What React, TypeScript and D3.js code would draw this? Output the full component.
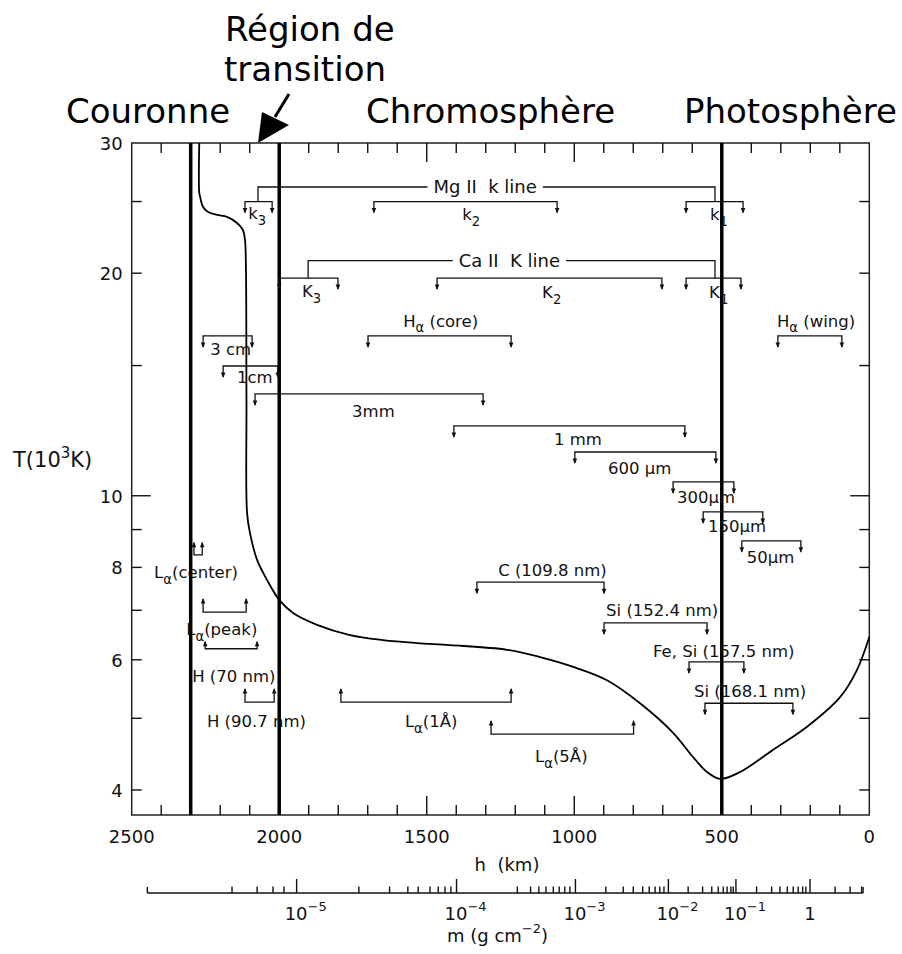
import React from 'react';
import * as d3 from 'd3';

const W = 902;
const H = 954;
const FONT = "'DejaVu Sans', Verdana, sans-serif";

// Temperature profile T(h) (VAL model), h in km, T in 10^3 K
const heightKm = [2271, 2271, 2268, 2258, 2241, 2211, 2177, 2143, 2123, 2116, 2113, 2111, 2109, 2099, 2075, 2041, 2000, 1953, 1872, 1760, 1648, 1533, 1421, 1228, 1116, 1004, 889, 777, 665, 597, 550, 506, 438, 327, 211, 99, 42, 0];
const tempKK = [30, 25.68, 25.36, 24.58, 24.2, 23.98, 23.83, 23.38, 22.88, 22.18, 20.65, 13.48, 9.48, 8.9, 8.19, 7.69, 7.23, 6.94, 6.69, 6.48, 6.38, 6.32, 6.28, 6.19, 6.05, 5.87, 5.63, 5.24, 4.78, 4.43, 4.23, 4.14, 4.23, 4.53, 4.87, 5.34, 5.81, 6.44];

// Region boundaries (km)
const boundaryHeights = [2300, 2000, 500];

// Axis ticks
const hTickLabels = [2500, 2000, 1500, 1000, 500, 0];
const hMinorTicks = d3.range(100, 2500, 100);
const hLongTicks = [1500, 1000];
const tTicks = [25, 20, 15, 10, 9, 8, 7, 6, 5, 4];
const tTickLabels = [30, 20, 10, 8, 6, 4];

// Column mass scale: m (g cm^-2) vs h (km)
const massTickValues = [6e-6, 7e-6, 8e-6, 9e-6, 1e-5, 2e-5, 3e-5, 4e-5, 5e-5, 6e-5, 7e-5, 8e-5, 9e-5, 1e-4, 2e-4, 3e-4, 4e-4, 5e-4, 6e-4, 7e-4, 8e-4, 9e-4, 1e-3, 2e-3, 3e-3, 4e-3, 5e-3, 6e-3, 7e-3, 8e-3, 9e-3, 1e-2, 2e-2, 3e-2, 4e-2, 5e-2, 6e-2, 7e-2, 8e-2, 9e-2, 1e-1, 2e-1, 3e-1, 4e-1, 5e-1, 6e-1, 7e-1, 8e-1, 9e-1, 1, 2, 3, 4];
const massTickHeights = [2160, 2075, 2021, 1984, 1941, 1730, 1626, 1564, 1529, 1489, 1461, 1438, 1418, 1399, 1193, 1148, 1120, 1096, 1071, 1051, 1032, 1015, 996, 893, 834, 800, 768, 746, 726, 710, 696, 681, 614, 565, 534, 512, 495, 482, 469, 461, 452, 382, 331, 303, 278, 258, 241, 226, 215, 201, 116, 65, 26];
const massDecadeLabels = [
  { m: 1e-5, base: '10', exp: '−5' },
  { m: 1e-4, base: '10', exp: '−4' },
  { m: 1e-3, base: '10', exp: '−3' },
  { m: 1e-2, base: '10', exp: '−2' },
  { m: 1e-1, base: '10', exp: '−1' },
  { m: 1, base: '1', exp: '' },
];
const massAxisEndsH = [2447, 21];

// Formation-height brackets (arrows pointing down)
const downBrackets = [
  { label: 'k_3', h1: 2116, h2: 2024, T: 25.0, lh: 2105, lT: 23.68 },
  { label: 'k_2', h1: 1679, h2: 1058, T: 25.0, lh: 1380, lT: 23.6 },
  { label: 'k_1', h1: 621, h2: 428, T: 25.0, lh: 540, lT: 23.6 },
  { label: 'K_3', h1: 2000, h2: 1801, T: 19.7, lh: 1923, lT: 18.57 },
  { label: 'K_2', h1: 1465, h2: 703, T: 19.7, lh: 1109, lT: 18.5 },
  { label: 'K_1', h1: 621, h2: 435, T: 19.7, lh: 543, lT: 18.5 },
  { label: 'H_α (core)', h1: 1699, h2: 1214, T: 16.45, lh: 1580, lT: 16.94 },
  { label: 'H_α (wing)', h1: 310, h2: 93, T: 16.45, lh: 313, lT: 16.94 },
  { label: '3 cm', h1: 2258, h2: 2092, T: 16.45, lh: 2234, lT: 15.5 },
  { label: '1cm', h1: 2190, h2: 2005, T: 14.98, lh: 2143, lT: 14.2 },
  { label: '3mm', h1: 2082, h2: 1309, T: 13.73, lh: 1753, lT: 12.78 },
  { label: '1 mm', h1: 1408, h2: 625, T: 12.43, lh: 1069, lT: 11.71 },
  { label: '600 µm', h1: 998, h2: 520, T: 11.46, lh: 886, lT: 10.7 },
  { label: '300µm', h1: 665, h2: 459, T: 10.44, lh: 652, lT: 9.78 },
  { label: '150µm', h1: 563, h2: 361, T: 9.51, lh: 547, lT: 8.93 },
  { label: '50µm', h1: 432, h2: 232, T: 8.69, lh: 415, lT: 8.11 },
  { label: 'C (109.8 nm)', h1: 1330, h2: 899, T: 7.64, lh: 1258, lT: 7.8 },
  { label: 'Si (152.4 nm)', h1: 899, h2: 550, T: 6.73, lh: 892, lT: 6.87 },
  { label: 'Fe, Si (157.5 nm)', h1: 611, h2: 425, T: 5.96, lh: 733, lT: 6.06 },
  { label: 'Si (168.1 nm)', h1: 557, h2: 259, T: 5.24, lh: 594, lT: 5.34 },
];

// Brackets with arrows pointing up
const upBrackets = [
  { label: 'L_α(center)', h1: 2289, h2: 2261, T: 8.32, lh: 2424, lT: 7.74, stem: 12 },
  { label: 'L_α(peak)', h1: 2258, h2: 2112, T: 6.96, lh: 2315, lT: 6.48, stem: 13 },
  { label: 'H (70 nm)', h1: 2251, h2: 2075, T: 6.21, lh: 2295, lT: 5.6, stem: 7 },
  { label: 'H (90.7 nm)', h1: 2116, h2: 2017, T: 5.26, lh: 2245, lT: 4.87, stem: 13 },
  { label: 'L_α(1Å)', h1: 1791, h2: 1214, T: 5.26, lh: 1574, lT: 4.87, stem: 13 },
  { label: 'L_α(5Å)', h1: 1282, h2: 799, T: 4.76, lh: 1133, lT: 4.36, stem: 13 },
];

// Line connectors (Mg II k, Ca II K)
const connectors = [
  { label: 'Mg II\u00A0\u00A0k line', hLeft: 2072, hRight: 523, T: 26.16, endT: 25.0, labelH: 1302 },
  { label: 'Ca II\u00A0\u00A0K line', hLeft: 1902, hRight: 523, T: 20.8, endT: 19.7, labelH: 1220 },
];

// Region titles
const regionTitles = [
  { text: 'Couronne', x: 66, y: 123 },
  { text: 'Région de', x: 225, y: 41 },
  { text: 'transition', x: 224, y: 81 },
  { text: 'Chromosphère', x: 366, y: 123 },
  { text: 'Photosphère', x: 684, y: 123 },
];

let measureCtx: CanvasRenderingContext2D | null = null;
function textWidth(s: string, size: number) {
  if (!measureCtx && typeof document !== 'undefined') {
    measureCtx = document.createElement('canvas').getContext('2d');
  }
  if (!measureCtx) return s.length * size * 0.6;
  measureCtx.font = `${size}px 'DejaVu Sans'`;
  return measureCtx.measureText(s).width;
}

function SubText({ label, x, y, size, anchor = 'start' }: { label: string; x: number; y: number; size: number; anchor?: string }) {
  const parts = label.split(/_(.)/);
  const nodes: any[] = [];
  let shifted = false;
  parts.forEach((p, i) => {
    if (p === '') return;
    if (i % 2 === 1) {
      nodes.push(<tspan key={i} fontSize={size * 0.8} dy={size * 0.35}>{p}</tspan>);
      shifted = true;
    } else {
      nodes.push(<tspan key={i} dy={shifted ? -size * 0.35 : 0}>{p}</tspan>);
      shifted = false;
    }
  });
  return (
    <text x={x} y={y} fontSize={size} fontFamily={FONT} textAnchor={anchor} fill="#111">{nodes}</text>
  );
}

export default function App() {
  const x = d3.scaleLinear().domain([2500, 0]).range([131.7, 869.3]);
  const y = d3.scaleLog().domain([3.7, 30]).range([815, 143]);
  const [xl, xr] = x.range();
  const [yb, yt] = y.range();

  const massToH = d3.scaleLinear().domain(massTickValues.map(Math.log10)).range(massTickHeights);
  const mx = (m: number) => x(massToH(Math.log10(m)));
  const massY = yb + 78;

  const curve = d3.line<[number, number]>().curve(d3.curveCatmullRom.alpha(0.5));
  const pts: [number, number][] = heightKm.map((h, i) => [x(h), y(tempKK[i])]);

  const stroke = '#111';
  const sw = 1.3;
  const labelSize = 16.5;
  const connSize = 18;

  const arrowDown = (cx: number, cy: number) => `M${cx - 2.3},${cy - 5.5}L${cx + 2.3},${cy - 5.5}L${cx},${cy}Z`;
  const arrowUp = (cx: number, cy: number) => `M${cx - 2.3},${cy + 5.5}L${cx + 2.3},${cy + 5.5}L${cx},${cy}Z`;

  const tip = [x(2072), y(30)];

  return (
    <svg width={W} height={H} style={{ position: 'absolute', left: 0, top: 0, background: '#fff' }}>
      <rect width={W} height={H} fill="#fff" />
      {/* region titles */}
      {regionTitles.map((t) => (
        <text key={t.text} x={t.x} y={t.y} fontSize={34} fontFamily={FONT} fill="#000">{t.text}</text>
      ))}
      {/* arrow to transition region */}
      <line x1={tip[0] + 31} y1={tip[1] - 49} x2={tip[0] + 17} y2={tip[1] - 26} stroke="#000" strokeWidth={3} />
      <path d={`M${tip[0]},${tip[1]}L${tip[0] + 4},${tip[1] - 31}L${tip[0] + 31},${tip[1] - 18}Z`} fill="#000" />

      {/* frame */}
      <rect x={xl} y={yt} width={xr - xl} height={yb - yt} fill="none" stroke="#222" strokeWidth={1.5} />

      {/* h ticks top & bottom */}
      {hMinorTicks.filter((h) => !boundaryHeights.includes(h)).map((h) => {
        const len = hLongTicks.includes(h) ? 19 : 10;
        return (
          <g key={h}>
            <line x1={x(h)} x2={x(h)} y1={yt} y2={yt + len} stroke={stroke} strokeWidth={1.4} />
            <line x1={x(h)} x2={x(h)} y1={yb} y2={yb - len} stroke={stroke} strokeWidth={1.4} />
          </g>
        );
      })}
      {hTickLabels.map((h) => (
        <text key={h} x={x(h)} y={yb + 28} fontSize={18} fontFamily={FONT} textAnchor="middle" fill="#111">{h}</text>
      ))}
      <text x={507} y={yb + 56} fontSize={18} fontFamily={FONT} textAnchor="middle" fill="#111">{'h\u00A0\u00A0(km)'}</text>

      {/* T ticks left & right */}
      {tTicks.map((t) => {
        const len = t === 10 ? 19 : 10;
        return (
          <g key={t}>
            <line x1={xl} x2={xl + len} y1={y(t)} y2={y(t)} stroke={stroke} strokeWidth={1.4} />
            <line x1={xr} x2={xr - len} y1={y(t)} y2={y(t)} stroke={stroke} strokeWidth={1.4} />
          </g>
        );
      })}
      {tTickLabels.map((t) => (
        <text key={t} x={xl - 9} y={y(t) + 7} fontSize={18} fontFamily={FONT} textAnchor="end" fill="#111">{t}</text>
      ))}
      <text x={13} y={467} fontSize={21} fontFamily={FONT} fill="#111">
        T(10<tspan fontSize={15} dy={-9}>3</tspan><tspan dy={9}>K)</tspan>
      </text>

      {/* boundaries */}
      {boundaryHeights.map((h) => (
        <line key={h} x1={x(h)} x2={x(h)} y1={yt} y2={yb} stroke="#000" strokeWidth={3.5} />
      ))}

      {/* temperature curve */}
      <path d={curve(pts) || ''} fill="none" stroke="#000" strokeWidth={1.8} />

      {/* connectors */}
      {connectors.map((c) => {
        const cy = y(c.T);
        const ey = y(c.endT);
        const cx = x(c.labelH);
        const half = textWidth(c.label, connSize) / 2 + 6;
        return (
          <g key={c.label}>
            <path d={`M${x(c.hLeft)},${ey}V${cy}H${cx - half}`} fill="none" stroke={stroke} strokeWidth={sw} />
            <path d={`M${cx + half},${cy}H${x(c.hRight)}V${ey}`} fill="none" stroke={stroke} strokeWidth={sw} />
            <text x={cx} y={cy} dy="0.35em" fontSize={connSize} fontFamily={FONT} textAnchor="middle" fill="#111">{c.label}</text>
          </g>
        );
      })}

      {/* down brackets */}
      {downBrackets.map((b) => {
        const by = y(b.T);
        const x1 = x(b.h1), x2 = x(b.h2);
        return (
          <g key={b.label}>
            <path d={`M${x1},${by + 11}V${by}H${x2}V${by + 11}`} fill="none" stroke={stroke} strokeWidth={sw} />
            <path d={arrowDown(x1, by + 12)} fill={stroke} />
            <path d={arrowDown(x2, by + 12)} fill={stroke} />
            <SubText label={b.label} x={x(b.lh)} y={y(b.lT)} size={labelSize} />
          </g>
        );
      })}

      {/* up brackets */}
      {upBrackets.map((b) => {
        const by = y(b.T);
        const x1 = x(b.h1), x2 = x(b.h2);
        return (
          <g key={b.label}>
            <path d={`M${x1},${by - b.stem}V${by}H${x2}V${by - b.stem}`} fill="none" stroke={stroke} strokeWidth={sw} />
            <path d={arrowUp(x1, by - b.stem - 1)} fill={stroke} />
            <path d={arrowUp(x2, by - b.stem - 1)} fill={stroke} />
            <SubText label={b.label} x={x(b.lh)} y={y(b.lT)} size={labelSize} />
          </g>
        );
      })}

      {/* mass axis */}
      <line x1={x(massAxisEndsH[0])} x2={x(massAxisEndsH[1])} y1={massY} y2={massY} stroke={stroke} strokeWidth={1.4} />
      <line x1={x(massAxisEndsH[0])} x2={x(massAxisEndsH[0])} y1={massY} y2={massY - 6} stroke={stroke} strokeWidth={1.4} />
      <line x1={x(massAxisEndsH[1])} x2={x(massAxisEndsH[1])} y1={massY} y2={massY - 6} stroke={stroke} strokeWidth={1.4} />
      {massTickValues.map((m) => {
        const lg = Math.log10(m);
        const major = Math.abs(lg - Math.round(lg)) < 1e-9;
        return (
          <line key={m} x1={mx(m)} x2={mx(m)} y1={massY} y2={massY - (major ? 14 : 6.5)} stroke={stroke} strokeWidth={1.4} />
        );
      })}
      {massDecadeLabels.map((d) => (
        <text key={d.m} x={mx(d.m) + (d.exp ? -12 : 0)} y={massY + 27} fontSize={18} fontFamily={FONT}
          textAnchor={d.exp ? 'start' : 'middle'} fill="#111">
          {d.base}
          {d.exp && <tspan fontSize={13} dy={-9}>{d.exp}</tspan>}
        </text>
      ))}
      <text x={447} y={massY + 49} fontSize={18} fontFamily={FONT} fill="#111">
        m (g cm<tspan fontSize={13} dy={-9}>−2</tspan><tspan dy={9}>)</tspan>
      </text>
    </svg>
  );
}
